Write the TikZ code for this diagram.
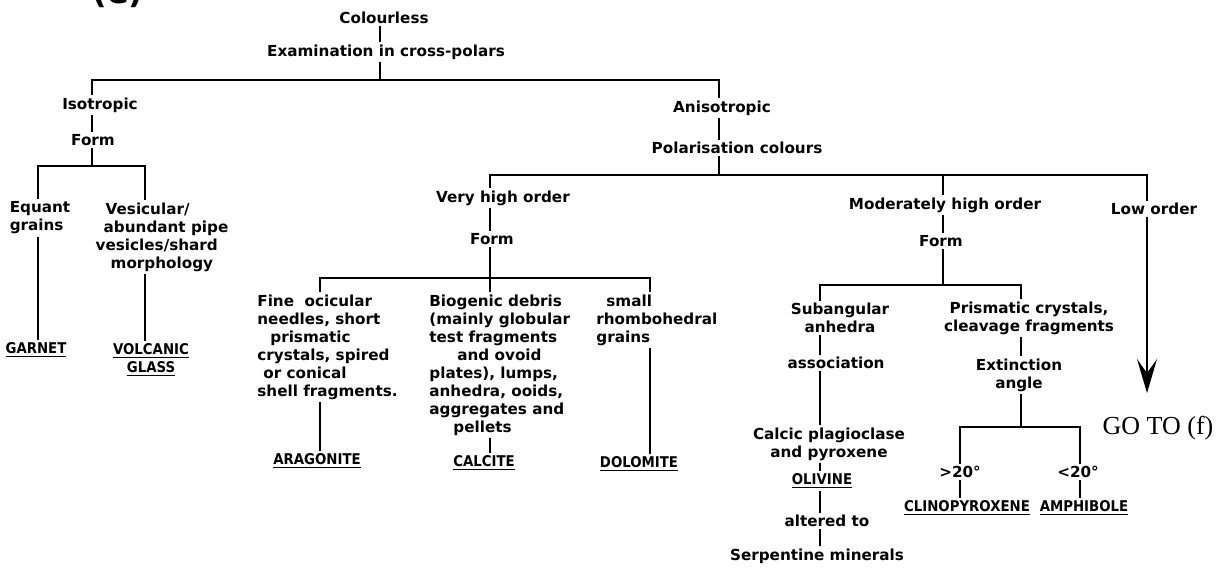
\documentclass[tikz,border=0pt]{standalone}
\usepackage{fontspec}
\setmainfont{DejaVu Sans}
\newfontfamily\capsfont{DejaVu Sans Condensed}
\newfontfamily\gotofont{Liberation Serif}
\usetikzlibrary{arrows.meta}
\newcommand\lblfont{\fontsize{7.6}{9}\selectfont\bfseries}
\newcommand\mineral[1]{{\capsfont\fontsize{7.4}{9}\selectfont\bfseries\underline{#1}}}

\begin{document}
\begin{tikzpicture}[
x=0.5pt, y=-0.5pt,
lbl/.style={font=\lblfont, inner sep=1pt, align=center},
lbll/.style={lbl, align=left, anchor=west},
link/.style={draw, line width=0.9pt}
]
\fill[white] (0,0) rectangle (1225,569);
\useasboundingbox (0,0) rectangle (1225,569);

\coordinate (cTop) at (380,0);
\coordinate (cIso) at (92,0);
\coordinate (cEq) at (38,0);
\coordinate (cVes) at (145,0);
\coordinate (cAni) at (719,0);
\coordinate (cVho) at (490,0);
\coordinate (cFine) at (320,0);
\coordinate (cSmall) at (650,0);
\coordinate (cMho) at (943,0);
\coordinate (cSub) at (820,0);
\coordinate (cPri) at (1021,0);
\coordinate (cGt) at (960,0);
\coordinate (cLt) at (1080,0);
\coordinate (cLow) at (1147,0);

\coordinate (s0) at (380,80);
\coordinate (sL) at (92,166);
\coordinate (sP) at (719,175);
\coordinate (sV) at (490,278);
\coordinate (sM) at (943,285);
\coordinate (sE) at (1021,427);
\coordinate (tip) at (1147,393);

\node[font=\fontsize{16}{18}\selectfont\bfseries, anchor=base, inner sep=0pt] (tag) at (118,3) {(e)};

\node[lbl] (colourless) at (384,18) {Colourless};
\node[lbl] (exam) at (386,52) {Examination in cross-polars};

\node[lbl] (iso) at (100,105) {Isotropic};
\node[lbl] (formL) at (93,140) {Form};
\node[lbl, align=left] (equant) at (40,218) {Equant\\grains};
\node[lbl, align=left] (vesic) at (162,237) {\hspace*{5pt}Vesicular/\\\hspace*{4pt}abundant pipe\\vesicles/shard\\\hspace*{7.5pt}morphology};
\node[lbl] (garnet) at (36,350) {\mineral{GARNET}};
\node[lbl] (volc) at (151,360) {\mineral{VOLCANIC}\\\mineral{GLASS}};

\node[lbl] (aniso) at (722,108) {Anisotropic};
\node[lbl] (pol) at (737,148) {Polarisation colours};

\node[lbl] (vho) at (503,198) {Very high order};
\node[lbl] (form2) at (492,239) {Form};
\node[lbll] (fine) at (255,347) {Fine\ \ ocicular\\needles, short\\\hspace*{6.5pt}prismatic\\crystals, spired\\\hspace*{3pt}or conical\\shell fragments.};
\node[lbll] (bio) at (427,365) {Biogenic debris\\(mainly globular\\test fragments\\\hspace*{14pt}and ovoid\\plates), lumps,\\anhedra, ooids,\\aggregates and\\\hspace*{12pt}pellets};
\node[lbll] (small) at (594,320) {\hspace*{5pt}small\\rhombohedral\\grains};
\node[lbl] (aragonite) at (317,461) {\mineral{ARAGONITE}};
\node[lbl] (calcite) at (484,463) {\mineral{CALCITE}};
\node[lbl] (dolomite) at (639,464) {\mineral{DOLOMITE}};

\node[lbl] (mho) at (945,205) {Moderately high order};
\node[lbl] (form3) at (941,241) {Form};
\node[lbl] (sub) at (840,318) {Subangular\\anhedra};
\node[lbl] (assoc) at (836,363) {association};
\node[lbl] (calcic) at (829,444) {Calcic plagioclase\\and pyroxene};
\node[lbl] (olivine) at (822,481) {\mineral{OLIVINE}};
\node[lbl] (altered) at (827,521) {altered to};
\node[lbl] (serp) at (817,556) {Serpentine minerals};
\node[lbl] (prism) at (1029,318) {Prismatic crystals,\\cleavage fragments};
\node[lbl] (ext) at (1019,375) {Extinction\\angle};
\node[lbl] (gt) at (960,472) {>20°};
\node[lbl] (lt) at (1078,472) {<20°};
\node[lbl] (clino) at (967,508) {\mineral{CLINOPYROXENE}};
\node[lbl] (amph) at (1084,508) {\mineral{AMPHIBOLE}};

\node[lbl] (low) at (1154,209) {Low order};
\node[font=\gotofont\fontsize{13}{15}\selectfont, inner sep=1pt] (goto) at (1158,428) {GO TO (f)};

\path[link] (colourless.south -| cTop) -- (exam.north -| cTop);
\path[link] (exam.south -| cTop) -- (s0);
\path[link] (iso.north -| cIso) |- (s0) -| (aniso.north -| cAni);

\path[link] (iso.south -| cIso) -- (formL.north -| cIso);
\path[link] (formL.south -| cIso) -- (sL);
\path[link] (equant.north -| cEq) |- (sL) -| (vesic.north -| cVes);
\path[link] (equant.south -| cEq) -- (garnet.north -| cEq);
\path[link] (vesic.south -| cVes) -- (volc.north -| cVes);

\path[link] (aniso.south -| cAni) -- (pol.north -| cAni);
\path[link] (pol.south -| cAni) -- (sP);
\path[link] (vho.north -| cVho) |- (sP) -| (low.north -| cLow);
\path[link] (sP -| cMho) -- (mho.north -| cMho);

\path[link] (vho.south -| cVho) -- (form2.north -| cVho);
\path[link] (form2.south -| cVho) -- (bio.north -| cVho);
\path[link] (fine.north -| cFine) |- (sV) -| (small.north -| cSmall);
\path[link] (fine.south -| cFine) -- (aragonite.north -| cFine);
\path[link] (bio.south -| cVho) -- (calcite.north -| cVho);
\path[link] (small.south -| cSmall) -- (dolomite.north -| cSmall);

\path[link] (mho.south -| cMho) -- (form3.north -| cMho);
\path[link] (form3.south -| cMho) -- (sM);
\path[link] (sub.north -| cSub) |- (sM) -| (prism.north -| cPri);
\path[link] (sub.south -| cSub) -- (assoc.north -| cSub);
\path[link] (assoc.south -| cSub) -- (calcic.north -| cSub);
\path[link] (calcic.south -| cSub) -- (olivine.north -| cSub);
\path[link] (olivine.south -| cSub) -- (altered.north -| cSub);
\path[link] (altered.south -| cSub) -- (serp.north -| cSub);
\path[link] (prism.south -| cPri) -- (ext.north -| cPri);
\path[link] (ext.south -| cPri) -- (sE);
\path[link] (gt.north -| cGt) |- (sE) -| (lt.north -| cLt);
\path[link] (gt.south -| cGt) -- (clino.north -| cGt);
\path[link] (lt.south -| cLt) -- (amph.north -| cLt);

\path[draw, line width=1.2pt, -{Stealth[length=17pt, width=10pt, inset=7pt]}] (low.south -| cLow) -- (tip);

\end{tikzpicture}
\end{document}
